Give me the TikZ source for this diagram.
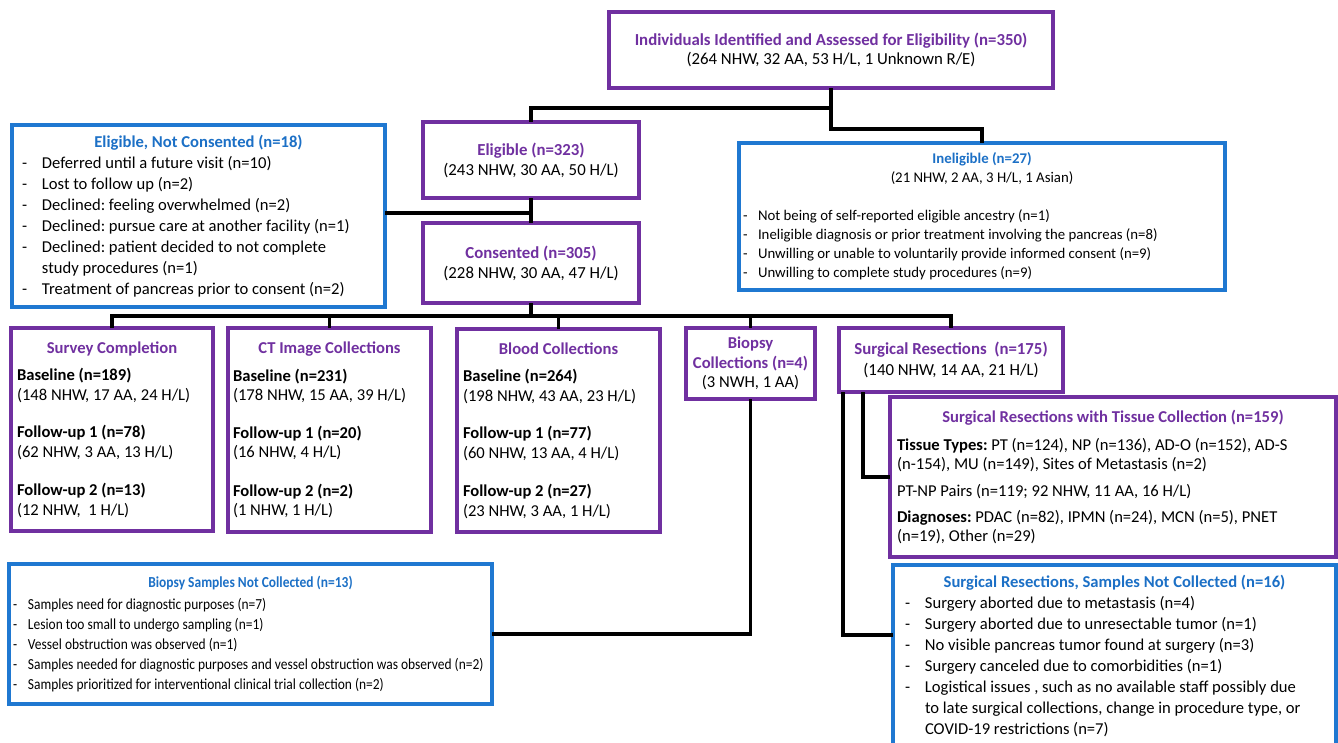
\documentclass[tikz,border=0pt]{standalone}
\usepackage{fontspec}
\setmainfont{Carlito}
\newfontfamily\condfont[FakeStretch=0.88]{Carlito}
\definecolor{pur}{HTML}{7030A0}
\definecolor{blu}{HTML}{1F78D1}
\definecolor{blut}{HTML}{1C70C6}
\newcommand{\ptitle}[1]{{\bfseries\color{pur}#1}}
\newcommand{\btitle}[1]{{\bfseries\color{blut}#1}}
\newcommand{\ctr}[2]{\makebox[#1]{#2}}
\newcommand{\ditem}[2]{\makebox[#1][l]{-}#2}
\newcommand{\fsz}[2]{\fontsize{#1}{#2}\selectfont}
\begin{document}
\frenchspacing
\begin{tikzpicture}[x=1pt,y=-1pt,
  box/.style={draw, line width=3.5pt, anchor=north west, inner ysep=0pt, outer sep=0pt},
  purplebox/.style={box, draw=pur, line width=4pt},
  bluebox/.style={box, draw=blu},
  conn/.style={line width=3.5pt, draw=black},
]
\fill[white] (0,0) rectangle (1338,742);
\useasboundingbox (0,0) rectangle (1338,742);

% top
\node[purplebox, minimum width=444pt, minimum height=76pt, align=center, font=\fsz{16.8}{19.5}] (top) at (609,12)
 {\ptitle{Individuals Identified and Assessed for Eligibility (n=350)}\\(264 NHW, 32 AA, 53 H/L, 1 Unknown R/E)};

\node[purplebox, minimum width=216pt, minimum height=76pt, align=center, font=\fsz{16.8}{20}] (elig) at (423,122)
 {\ptitle{Eligible (n=323)}\\(243 NHW, 30 AA, 50 H/L)};

\node[purplebox, minimum width=216pt, minimum height=80pt, align=center, font=\fsz{16.8}{20}] (cons) at (423,223)
 {\ptitle{Consented (n=305)}\\(228 NHW, 30 AA, 47 H/L)};

\node[bluebox, minimum width=373pt, minimum height=182pt, inner xsep=10pt, align=left, font=\fsz{16.6}{21}] (enc) at (12,125)
 {\ctr{353pt}{\btitle{Eligible, Not Consented (n=18)}}\\
  \ditem{20pt}{Deferred until a future visit (n=10)}\\
  \ditem{20pt}{Lost to follow up (n=2)}\\
  \ditem{20pt}{Declined: feeling overwhelmed (n=2)}\\
  \ditem{20pt}{Declined: pursue care at another facility (n=1)}\\
  \ditem{20pt}{Declined: patient decided to not complete}\\
  \hspace*{20pt}study procedures (n=1)\\
  \ditem{20pt}{Treatment of pancreas prior to consent (n=2)}};

\node[bluebox, minimum width=486pt, minimum height=147pt, inner xsep=4pt, align=left, font=\fsz{14.8}{19}] (inel) at (739,143)
 {\ctr{478pt}{\btitle{Ineligible (n=27)}}\\
  \ctr{478pt}{(21 NHW, 2 AA, 3 H/L, 1 Asian)}\\[19pt]
  \ditem{15pt}{Not being of self-reported eligible ancestry (n=1)}\\
  \ditem{15pt}{Ineligible diagnosis or prior treatment involving the pancreas (n=8)}\\
  \ditem{15pt}{Unwilling or unable to voluntarily provide informed consent (n=9)}\\
  \ditem{15pt}{Unwilling to complete study procedures (n=9)}};

\node[purplebox, minimum width=202pt, minimum height=203pt, inner xsep=6pt, align=left, font=\fsz{16.6}{19.5}] (survey) at (11,328)
 {\ctr{190pt}{\ptitle{Survey Completion}}\\[8pt]
  \textbf{Baseline (n=189)}\\
  (148 NHW, 17 AA, 24 H/L)\\[18pt]
  \textbf{Follow-up 1 (n=78)}\\
  (62 NHW, 3 AA, 13 H/L)\\[19pt]
  \textbf{Follow-up 2 (n=13)}\\
  (12 NHW,\ \ 1 H/L)};

\node[purplebox, minimum width=203pt, minimum height=204pt, inner xsep=5pt, align=left, font=\fsz{16.6}{19.5}] (ct) at (228,328)
 {\ctr{193pt}{\ptitle{CT Image Collections}}\\[8pt]
  \textbf{Baseline (n=231)}\\
  (178 NHW, 15 AA, 39 H/L)\\[18pt]
  \textbf{Follow-up 1 (n=20)}\\
  (16 NHW, 4 H/L)\\[19pt]
  \textbf{Follow-up 2 (n=2)}\\
  (1 NHW, 1 H/L)};

\node[purplebox, minimum width=203pt, minimum height=203pt, inner xsep=6pt, align=left, font=\fsz{16.6}{19.5}] (blood) at (457,329)
 {\ctr{191pt}{\ptitle{Blood Collections}}\\[8pt]
  \textbf{Baseline (n=264)}\\
  (198 NHW, 43 AA, 23 H/L)\\[18pt]
  \textbf{Follow-up 1 (n=77)}\\
  (60 NHW, 13 AA, 4 H/L)\\[19pt]
  \textbf{Follow-up 2 (n=27)}\\
  (23 NHW, 3 AA, 1 H/L)};

\node[purplebox, minimum width=129pt, minimum height=71pt, inner xsep=1pt, align=center, font=\fsz{16.6}{19.5}] (biopsy) at (686,328)
 {\ptitle{Biopsy}\\\ptitle{Collections (n=4)}\\(3 NWH, 1 AA)};

\node[purplebox, minimum width=224pt, minimum height=64pt, align=center, font=\fsz{16.8}{21}] (surg) at (839,328)
 {\ptitle{Surgical Resections\ \ (n=175)}\\(140 NHW, 14 AA, 21 H/L)};

\node[purplebox, minimum width=446pt, minimum height=160pt, inner xsep=7pt, align=left, font=\fsz{16.6}{19}] (srwtc) at (890,397)
 {\ctr{432pt}{\ptitle{Surgical Resections with Tissue Collection (n=159)}}\\[9pt]
  \textbf{Tissue Types:} PT (n=124), NP (n=136), AD-O (n=152), AD-S\\
  (n-154), MU (n=149), Sites of Metastasis (n=2)\\[8pt]
  PT-NP Pairs (n=119; 92 NHW, 11 AA, 16 H/L)\\[7pt]
  \textbf{Diagnoses:} PDAC (n=82), IPMN (n=24), MCN (n=5), PNET\\
  (n=19), Other (n=29)};

\node[bluebox, minimum width=483pt, minimum height=140pt, inner xsep=4pt, align=left, font=\condfont\fsz{15.3}{20}] (bsnc) at (9,564)
 {\ctr{475pt}{\btitle{Biopsy Samples Not Collected (n=13)}}\\[2pt]
  \ditem{15pt}{Samples need for diagnostic purposes (n=7)}\\
  \ditem{15pt}{Lesion too small to undergo sampling (n=1)}\\
  \ditem{15pt}{Vessel obstruction was observed (n=1)}\\
  \ditem{15pt}{Samples needed for diagnostic purposes and vessel obstruction was observed (n=2)}\\
  \ditem{15pt}{Samples prioritized for interventional clinical trial collection (n=2)}};

\node[bluebox, minimum width=443pt, minimum height=181pt, inner xsep=12pt, align=left, font=\fsz{16.6}{21}] (srnc) at (893,565)
 {\ctr{419pt}{\btitle{Surgical Resections, Samples Not Collected (n=16)}}\\
  \ditem{20pt}{Surgery aborted due to metastasis (n=4)}\\
  \ditem{20pt}{Surgery aborted due to unresectable tumor (n=1)}\\
  \ditem{20pt}{No visible pancreas tumor found at surgery (n=3)}\\
  \ditem{20pt}{Surgery canceled due to comorbidities (n=1)}\\
  \ditem{20pt}{Logistical issues , such as no available staff possibly due}\\
  \hspace*{20pt}to late surgical collections, change in procedure type, or\\
  \hspace*{20pt}COVID-19 restrictions (n=7)};

% connectors
\draw[conn] (top.south) -- ++(0,20) -| (elig.north);
\draw[conn] (top.south) -- ++(0,41) -| (inel.north);
\draw[conn] (elig.south) -- (cons.north);
\draw[conn] ([yshift=3pt]enc.east) -- ([yshift=3pt]enc.east -| cons.north);
\draw[conn] (cons.south) -- ++(0,13);
\draw[conn] (survey.north) -- ++(0,-12) -| (surg.north);
\draw[conn] (ct.north) -- ++(0,-12);
\draw[conn] (blood.north) -- ++(0,-13);
\draw[conn] (biopsy.north) -- ++(0,-12);
\draw[conn] (biopsy.south) |- (bsnc.east);
\draw[conn] ([xshift=4pt]surg.south west) |- ([yshift=-70pt]srnc.north west);
\draw[conn] ([xshift=24pt]surg.south west) |- (srwtc.west);
\end{tikzpicture}
\end{document}
